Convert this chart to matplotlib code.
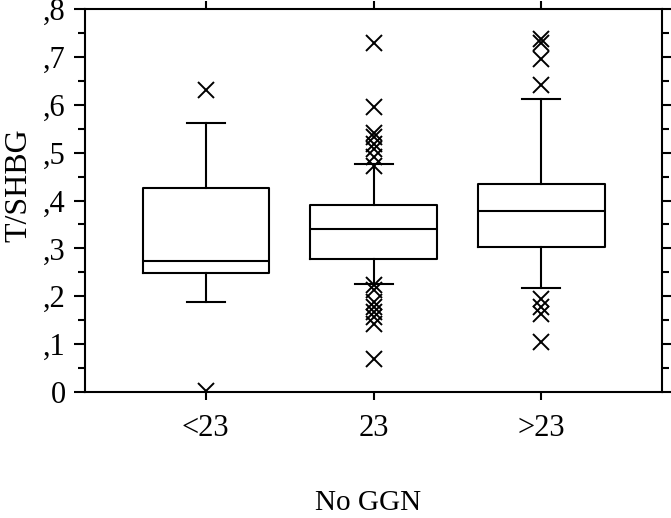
import numpy as np
import matplotlib.pyplot as plt

plt.rcParams['font.family'] = ['Liberation Serif', 'DejaVu Serif']

groups = ['<23', '23', '>23']
q1 = [0.249, 0.2785, 0.3035]
med = [0.274, 0.341, 0.3787]
q3 = [0.4255, 0.391, 0.4336]
whislo = [0.187, 0.225, 0.2166]
whishi = [0.5626, 0.4756, 0.6127]
fliers = [
    [0.631, 0.002],
    [0.728, 0.595, 0.540, 0.533, 0.519, 0.507, 0.491, 0.473,
     0.2235, 0.213, 0.189, 0.178, 0.168, 0.157, 0.143, 0.068],
    [0.7365, 0.7296, 0.6947, 0.641, 0.194, 0.178, 0.164, 0.105],
]
yticks = [0, 0.1, 0.2, 0.3, 0.4, 0.5, 0.6, 0.7, 0.8]
yticklabels = ['0', ',1', ',2', ',3', ',4', ',5', ',6', ',7', ',8']

stats = []
for i in range(3):
    stats.append(dict(med=med[i], q1=q1[i], q3=q3[i], whislo=whislo[i],
                      whishi=whishi[i], fliers=fliers[i], label=groups[i]))

fig = plt.figure(figsize=(6.71, 5.18), dpi=100)
ax = fig.add_axes([0.1267, 0.2432, 0.86, 0.7394])

lw = 1.5
ax.bxp(stats, positions=[1, 2, 3], widths=0.754, capwidths=0.226,
       boxprops=dict(color='black', linewidth=lw),
       medianprops=dict(color='black', linewidth=lw),
       whiskerprops=dict(color='black', linewidth=lw),
       capprops=dict(color='black', linewidth=lw),
       flierprops=dict(marker='x', markersize=11.5, markeredgecolor='black',
                       markeredgewidth=1.4, linestyle='none'))

ax.set_xlim(0.28, 3.72)
ax.set_ylim(0, 0.8)
ax.set_yticks(yticks)
ax.set_yticklabels(yticklabels)
ax.set_yticks(np.arange(0.05, 0.8, 0.1), minor=True)
ax.set_xticks([1, 2, 3])
ax.set_xticklabels(groups)

for s in ax.spines.values():
    s.set_linewidth(lw)

fs = 22
ax.tick_params(axis='y', which='major', direction='out', length=8, width=lw,
               labelsize=fs, right=True, pad=6)
ax.tick_params(axis='y', which='minor', direction='out', length=5, width=lw,
               right=True)
ax.tick_params(axis='x', which='major', direction='out', length=6, width=lw,
               labelsize=fs, top=True, pad=10)

ax.set_ylabel('T/SHBG', fontsize=23)
ax.yaxis.set_label_coords(-0.089, 0.54)
ax.set_xlabel('No GGN', fontsize=21)
ax.xaxis.set_label_coords(0.49, -0.255)

fig.savefig('out.png', dpi=100)
